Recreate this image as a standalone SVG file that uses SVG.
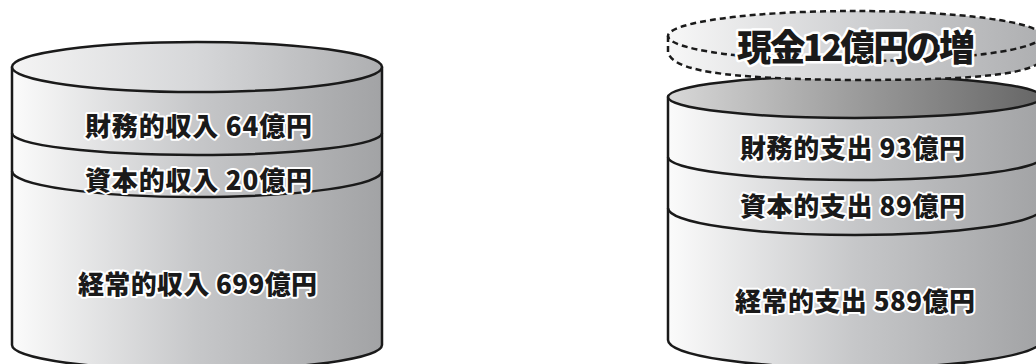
<svg xmlns="http://www.w3.org/2000/svg" width="1036" height="364" viewBox="0 0 1036 364">
  <defs>
    <linearGradient id="gBody" x1="0" y1="0" x2="1" y2="0">
      <stop offset="0" stop-color="#fbfbfb"/>
      <stop offset="0.5" stop-color="#c6c7c9"/>
      <stop offset="1" stop-color="#a2a3a5"/>
    </linearGradient>
    <linearGradient id="gTop" x1="0" y1="0" x2="1" y2="0">
      <stop offset="0" stop-color="#f4f4f4"/>
      <stop offset="0.5" stop-color="#d6d7d9"/>
      <stop offset="1" stop-color="#aeafb1"/>
    </linearGradient>
    <linearGradient id="gDark" x1="0" y1="0" x2="1" y2="0">
      <stop offset="0" stop-color="#d8d8d8"/>
      <stop offset="0.5" stop-color="#9c9c9c"/>
      <stop offset="1" stop-color="#666666"/>
    </linearGradient>
    <linearGradient id="gDisk" x1="0" y1="0" x2="1" y2="0">
      <stop offset="0" stop-color="#f7f7f7"/>
      <stop offset="0.5" stop-color="#d0d1d3"/>
      <stop offset="1" stop-color="#aeafb1"/>
    </linearGradient>
    <style>
      .edge { stroke: #1a1a1a; stroke-width: 2.5; stroke-linejoin: round; }
      .line { fill: none; stroke: #1a1a1a; stroke-width: 2.5; }
      .dash { fill: none; stroke: #1a1a1a; stroke-width: 2.5; stroke-dasharray: 6 4; }
      .lbl { font-family: "Noto Sans CJK JP", "Noto Sans", sans-serif; font-weight: 900; font-size: 26px; fill: #1a1a1a; stroke: #ffffff; stroke-width: 4; stroke-linejoin: round; paint-order: stroke; }
      .big { font-size: 36px; stroke-width: 5; }
    </style>
  </defs>

  <g id="income-cylinder">
    <path class="edge" fill="url(#gBody)" d="M12,67 L12,345 A185,25 0 0 0 382,345 L382,67 Z"/>
    <ellipse class="edge" fill="url(#gTop)" cx="197" cy="67" rx="185" ry="25"/>
    <path class="line" d="M12,133 A185,22 0 0 0 382,133"/>
    <path class="line" d="M12,171 A185,26 0 0 0 382,171"/>
  </g>
  <g id="income-labels">
    <text class="lbl" x="85" y="136" textLength="227" lengthAdjust="spacing">財務的収入 64億円</text>
    <text class="lbl" x="85" y="190" textLength="227" lengthAdjust="spacing">資本的収入 20億円</text>
    <text class="lbl" x="78" y="294" textLength="239" lengthAdjust="spacing">経常的収入 699億円</text>
  </g>

  <g id="expense-cylinder">
    <path class="edge" fill="url(#gBody)" d="M668,97 L668,340 A187,28 0 0 0 1042,340 L1042,97 Z"/>
    <ellipse class="edge" fill="url(#gDark)" cx="855" cy="97" rx="187" ry="21"/>
    <path class="line" d="M668,157 A187,23 0 0 0 1042,157"/>
    <path class="line" d="M668,208 A187,27 0 0 0 1042,208"/>
  </g>

  <g id="cash-increase">
    <path fill="url(#gDisk)" d="M668,36 A187,25 0 0 1 1042,36 L1042,60 C1030,76 960,80 855,80 C720,79 672,70 668,52 Z"/>
    <ellipse class="dash" cx="855" cy="36" rx="187" ry="25"/>
    <path class="dash" d="M668,36 L668,52 C672,70 720,79 855,80 C960,80 1030,76 1042,60"/>
    <text class="lbl big" x="737" y="61" textLength="238" lengthAdjust="spacing">現金12億円の増</text>
  </g>

  <g id="expense-labels">
    <text class="lbl" x="740" y="158" textLength="225" lengthAdjust="spacing">財務的支出 93億円</text>
    <text class="lbl" x="740" y="216" textLength="225" lengthAdjust="spacing">資本的支出 89億円</text>
    <text class="lbl" x="735" y="311" textLength="240" lengthAdjust="spacing">経常的支出 589億円</text>
  </g>
</svg>
